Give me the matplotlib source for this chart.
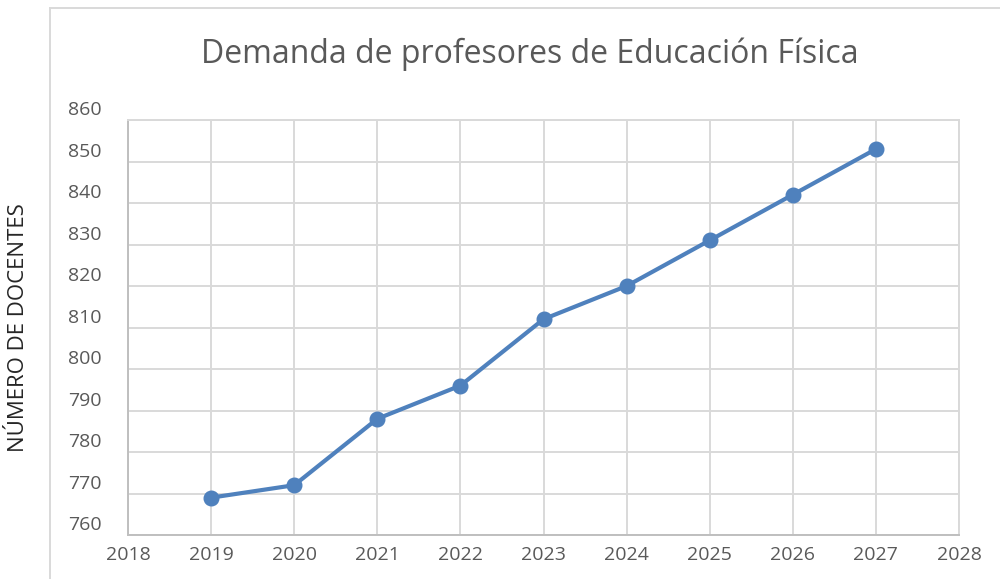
import matplotlib
matplotlib.use("Agg")
import matplotlib.pyplot as plt
import matplotlib.transforms as mtransforms
from matplotlib.lines import Line2D

years = [2019, 2020, 2021, 2022, 2023, 2024, 2025, 2026, 2027]
docentes = [769, 772, 788, 796, 812, 820, 831, 842, 853]
x_ticks = [2018, 2019, 2020, 2021, 2022, 2023, 2024, 2025, 2026, 2027, 2028]
y_ticks = [760, 770, 780, 790, 800, 810, 820, 830, 840, 850, 860]
title = "Demanda de profesores de Educación Física"
ylabel = "NÚMERO DE DOCENTES"

W, H = 1000, 579
fig = plt.figure(figsize=(W / 100, H / 100), dpi=100)
font = "Open Sans"

# plot area in pixels: left 128, right 959, top 120, bottom 535
ax = fig.add_axes([128 / W, 1 - 535 / H, (959 - 128) / W, (535 - 120) / H])
ax.plot(years, docentes, color="#4F81BD", lw=3.0, marker="o", ms=10.5,
        solid_capstyle="round", zorder=3, clip_on=False)

ax.set_xlim(2018, 2028)
ax.set_ylim(760, 860)
ax.set_xticks(x_ticks)
ax.set_yticks(y_ticks)
ax.grid(True, color="#D9D9D9", lw=1.4)
ax.set_axisbelow(True)
for s in ["top", "right"]:
    ax.spines[s].set_color("#D9D9D9")
    ax.spines[s].set_linewidth(1.4)
for s in ["left", "bottom"]:
    ax.spines[s].set_color("#BFBFBF")
    ax.spines[s].set_linewidth(1.4)
ax.tick_params(length=0, labelsize=14, labelcolor="#595959")
for lab in ax.get_xticklabels() + ax.get_yticklabels():
    lab.set_fontfamily(font)
ax.tick_params(axis="x", pad=8)
ax.tick_params(axis="y", pad=19)
offset = mtransforms.ScaledTranslation(0, 12 / 100, fig.dpi_scale_trans)
for lab in ax.get_yticklabels():
    lab.set_transform(lab.get_transform() + offset)

fig.text(530 / W, 1 - 54 / H, title, ha="center", va="center",
         fontsize=23, color="#595959", family=font)
fig.text(19 / W, 1 - 328 / H, ylabel, ha="center", va="center", rotation=90,
         fontsize=16, color="#262626", family=font)

# outer chart frame
fig.add_artist(Line2D([50 / W, 50 / W], [0, 1 - 8 / H], color="#D9D9D9", lw=1.4,
                      transform=fig.transFigure))
fig.add_artist(Line2D([50 / W, 1], [1 - 8 / H, 1 - 8 / H], color="#D9D9D9", lw=1.4,
                      transform=fig.transFigure))

fig.savefig("out.png", dpi=100)
